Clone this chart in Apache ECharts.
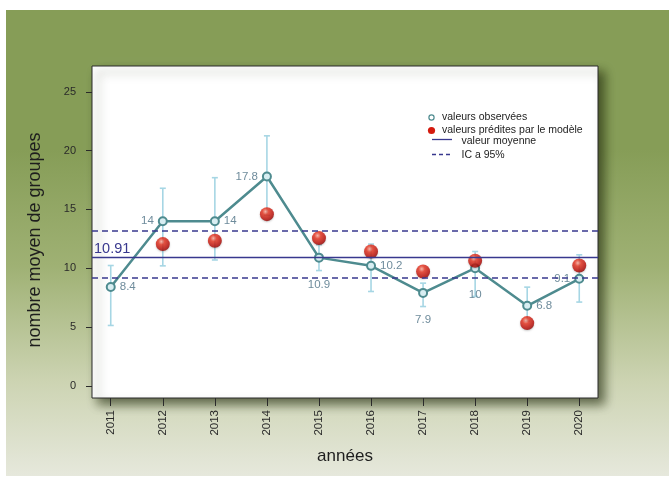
<!DOCTYPE html>
<html><head><meta charset="utf-8">
<script src="https://cdn.jsdelivr.net/npm/echarts@6/dist/echarts.min.js"></script>
<style>html,body{margin:0;padding:0;background:#fff}#c{width:669px;height:479px}</style>
</head><body><div id="c"></div>
<script>
// ---- data ----
const years = [2011, 2012, 2013, 2014, 2015, 2016, 2017, 2018, 2019, 2020];
const observed = [8.4, 14, 14, 17.8, 10.9, 10.2, 7.9, 10, 6.8, 9.1];
const predicted = [null, 12.05, 12.33, 14.6, 12.56, 11.42, 9.72, 10.63, 5.33, 10.23];
const ciLow = [5.13, 10.2, 10.7, 14.5, 9.8, 8.02, 6.74, 7.6, 5.5, 7.12];
const ciHigh = [10.23, 16.8, 17.7, 21.26, 12.0, 12.05, 8.73, 11.42, 8.39, 11.14];
const meanValue = 10.91;
const ciBand = [9.18, 13.2];
const yTicks = [0, 5, 10, 15, 20, 25];

// ---- rendering ----
const FONT = "'Liberation Sans', Arial, sans-serif";
const labelSide = ['right','left','right','left','bottom','right','bottom','bottom','right','left'];
const teal = '#4e8b8f';
const navy = '#38388e';
const chart = echarts.init(document.getElementById('c'), null, {renderer: 'canvas'});

const obsData = years.map((y, i) => ({
  value: [y, observed[i]],
  label: {
    position: labelSide[i],
    distance: labelSide[i] === 'bottom' ? 16 : 4
  }
}));
const predData = years.map((y, i) => [y, predicted[i]]).filter(d => d[1] != null);
const errData = years.map((y, i) => [y, ciLow[i], ciHigh[i]]);

const redBall = {
  type: 'radial', x: 0.4, y: 0.32, r: 0.75,
  colorStops: [
    {offset: 0, color: '#ffb0a0'},
    {offset: 0.3, color: '#e8321e'},
    {offset: 0.75, color: '#b80a04'},
    {offset: 1, color: '#7a0000'}
  ]
};
const LF = '10.5px ' + FONT;

const option = {
  animation: false,
  backgroundColor: '#ffffff',
  textStyle: {fontFamily: FONT},
  graphic: [
    {type: 'rect', z: -100, silent: true,
     shape: {x: 6, y: 10, width: 663, height: 466},
     style: {fill: {type: 'linear', x: 0, y: 0, x2: 0, y2: 1, colorStops: [
       {offset: 0, color: '#869d57'},
       {offset: 0.3, color: '#869d57'},
       {offset: 0.55, color: '#9fb174'},
       {offset: 0.8, color: '#cdd4b3'},
       {offset: 1, color: '#e6e8dc'}
     ]}}},
    // legend
    {type: 'circle', z: 50, shape: {cx: 431.5, cy: 117.5, r: 2.6}, style: {fill: '#fff', stroke: teal, lineWidth: 1.2}},
    {type: 'text', z: 50, x: 442, y: 117.5, style: {text: 'valeurs observées', font: LF, fill: '#222', verticalAlign: 'middle'}},
    {type: 'circle', z: 50, shape: {cx: 431.5, cy: 130.5, r: 3.6}, style: {fill: '#d41a0e'}},
    {type: 'text', z: 50, x: 442, y: 130.5, style: {text: 'valeurs prédites par le modèle', font: LF, fill: '#222', verticalAlign: 'middle'}},
    {type: 'line', z: 50, shape: {x1: 432, y1: 139.5, x2: 452, y2: 139.5}, style: {stroke: navy, lineWidth: 1.3}},
    {type: 'text', z: 50, x: 461.5, y: 141, style: {text: 'valeur moyenne', font: LF, fill: '#222', verticalAlign: 'middle'}},
    {type: 'line', z: 50, shape: {x1: 432, y1: 154.5, x2: 452, y2: 154.5}, style: {stroke: navy, lineWidth: 1.3, lineDash: [4, 3]}},
    {type: 'text', z: 50, x: 461.5, y: 155, style: {text: 'IC a 95%', font: LF, fill: '#222', verticalAlign: 'middle'}}
  ],
  grid: {
    left: 92, top: 66, right: 71, bottom: 81,
    show: true, backgroundColor: '#ffffff', borderColor: '#2a2a2a', borderWidth: 1,
    shadowColor: 'rgba(30,40,10,0.65)', shadowBlur: 10, shadowOffsetX: 6, shadowOffsetY: 6
  },
  xAxis: {
    type: 'value', min: 2010.64, max: 2020.36,
    splitLine: {show: false},
    axisLine: {show: false, onZero: false},
    axisTick: {show: true, inside: false, length: 8, customValues: years, lineStyle: {color: '#2a2a2a', width: 1}},
    axisLabel: {customValues: years, rotate: 90, margin: 12, fontSize: 11.5, color: '#2a2a2a', fontFamily: FONT,
      formatter: v => String(v)},
    name: 'années', nameLocation: 'middle', nameGap: 50,
    nameTextStyle: {fontSize: 17, color: '#1e1e1e', fontFamily: FONT}
  },
  yAxis: {
    type: 'value', min: -1.04, max: 27.2,
    splitLine: {show: false},
    axisLine: {show: false, onZero: false},
    axisTick: {show: true, inside: false, length: 6, customValues: yTicks, lineStyle: {color: '#2a2a2a', width: 1}},
    axisLabel: {customValues: yTicks, margin: 16, fontSize: 11, color: '#2a2a2a', fontFamily: FONT},
    name: 'nombre moyen de groupes', nameLocation: 'middle', nameGap: 48,
    nameTextStyle: {fontSize: 18, color: '#1e1e1e', fontFamily: FONT, padding: [0, 16, 0, 0]}
  },
  series: [
    {
      type: 'custom', name: 'ic', z: 2, silent: true,
      data: errData,
      renderItem: function (params, api) {
        const x = api.value(0);
        const lo = api.coord([x, api.value(1)]);
        const hi = api.coord([x, api.value(2)]);
        const cw = 3;
        const st = {stroke: '#a6d6e4', lineWidth: 1.6};
        return {type: 'group', children: [
          {type: 'line', shape: {x1: lo[0], y1: lo[1], x2: hi[0], y2: hi[1]}, style: st},
          {type: 'line', shape: {x1: lo[0] - cw, y1: lo[1], x2: lo[0] + cw, y2: lo[1]}, style: st},
          {type: 'line', shape: {x1: hi[0] - cw, y1: hi[1], x2: hi[0] + cw, y2: hi[1]}, style: st}
        ]};
      }
    },
    {
      type: 'line', name: 'ref', z: 2, data: [], silent: true,
      color: navy,
      markLine: {
        silent: true, symbol: 'none',
        lineStyle: {color: navy},
        data: [
          {yAxis: meanValue, lineStyle: {color: navy, width: 1.3, type: 'solid'},
           label: {show: true, formatter: String(meanValue), position: 'insideStartTop', distance: [2, 1],
                   color: navy, fontSize: 14.5, fontFamily: FONT}},
          {yAxis: ciBand[0], lineStyle: {color: navy, width: 1.5, type: [6, 4]}, label: {show: false}},
          {yAxis: ciBand[1], lineStyle: {color: navy, width: 1.5, type: [6, 4]}, label: {show: false}}
        ]
      }
    },
    {
      type: 'line', name: 'observées', z: 3,
      data: obsData,
      lineStyle: {color: teal, width: 2.5},
      symbol: 'circle', symbolSize: 8,
      itemStyle: {color: '#d8eef2', borderColor: teal, borderWidth: 2},
      label: {show: true, color: '#6f8c9c', fontSize: 11.5, fontFamily: FONT,
              formatter: p => String(p.value[1])}
    },
    {
      type: 'scatter', name: 'prédites', z: 4,
      data: predData,
      symbol: 'circle', symbolSize: 14,
      itemStyle: {color: redBall, shadowColor: 'rgba(0,0,0,0.25)', shadowBlur: 2, shadowOffsetY: 1}
    }
  ]
};
chart.setOption(option);
</script></body></html>
